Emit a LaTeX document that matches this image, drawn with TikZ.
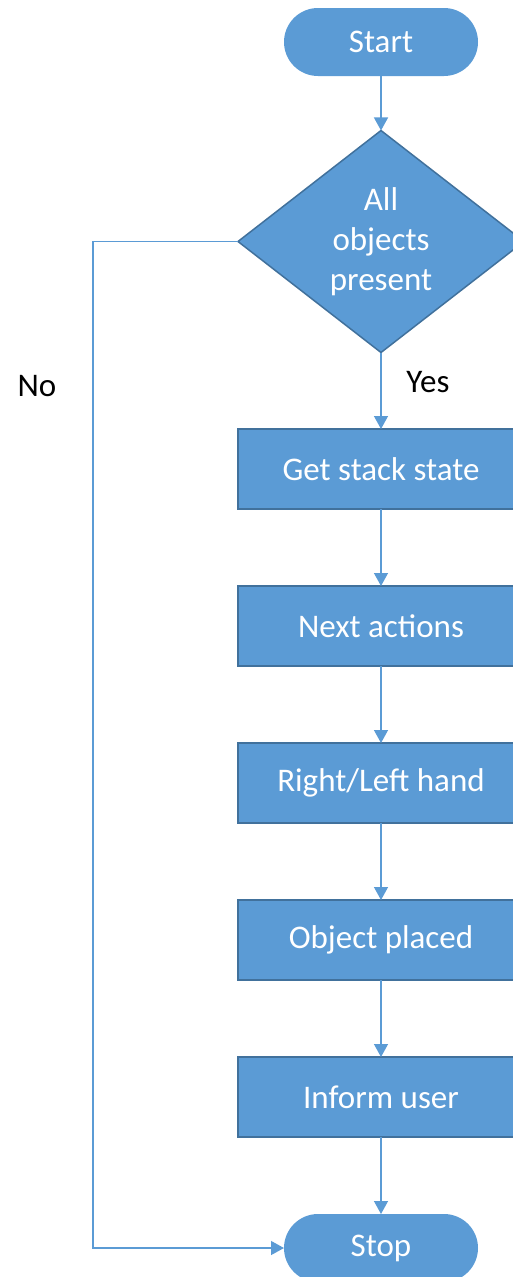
\documentclass[tikz,border=0pt]{standalone}
\usepackage{fontspec}
\setmainfont{Carlito}
\usetikzlibrary{arrows.meta,shapes.geometric}
\definecolor{fillblue}{HTML}{5B9BD5}
\definecolor{edgeblue}{HTML}{41719C}
\begin{document}
\begin{tikzpicture}[x=1pt,y=-1pt,
  every node/.style={font=\fontsize{33}{40}\selectfont},
  terminal/.style={fill=fillblue, rounded corners=34pt, minimum width=194pt,
    minimum height=68pt, text=white, inner sep=0pt, outer sep=0pt},
  process/.style={draw=edgeblue, fill=fillblue, line width=1.5pt,
    minimum width=286pt, minimum height=80pt, text=white, inner sep=0pt, outer sep=0pt},
  decision/.style={diamond, draw=edgeblue, fill=fillblue, line width=1.5pt,
    minimum width=286pt, minimum height=222pt, aspect=1.29, text=white,
    inner sep=0pt, outer sep=0pt, align=center},
  flow/.style={draw=fillblue, line width=1.3pt, -{Triangle[width=14pt,length=13pt]}},
  lbl/.style={text=black, inner sep=0pt}]
  \path[use as bounding box, clip] (0,0) rectangle (513,1277);

  % shapes of the flow
  \node[terminal] (start) at (381,42) {Start};
  \node[decision] (check) at (381,241.5) {All\\objects\\present};
  \node[process] (stack) at (381,469) {Get stack state};
  \node[process] (next) at (381,626) {Next actions};
  \node[process] (hand) at (381,783) {Right/Left hand};
  \node[process] (placed) at (381,940) {Object placed};
  \node[process] (inform) at (381,1097) {Inform user};
  \node[terminal] (stop) at (381,1248) {Stop};

  % branch labels
  \node[lbl] (yes) at (428,382) {Yes};
  \node[lbl] (no) at (37,386) {No};

  % connectors
  \coordinate (nocorner) at (93,241.5);
  \draw[flow] (start) -- (check);
  \draw[flow] (check) -- (stack);
  \draw[flow] (stack) -- (next);
  \draw[flow] (next) -- (hand);
  \draw[flow] (hand) -- (placed);
  \draw[flow] (placed) -- (inform);
  \draw[flow] (inform) -- (stop);
  \draw[flow] (check.west) -- (nocorner) |- (stop.west);
\end{tikzpicture}
\end{document}
